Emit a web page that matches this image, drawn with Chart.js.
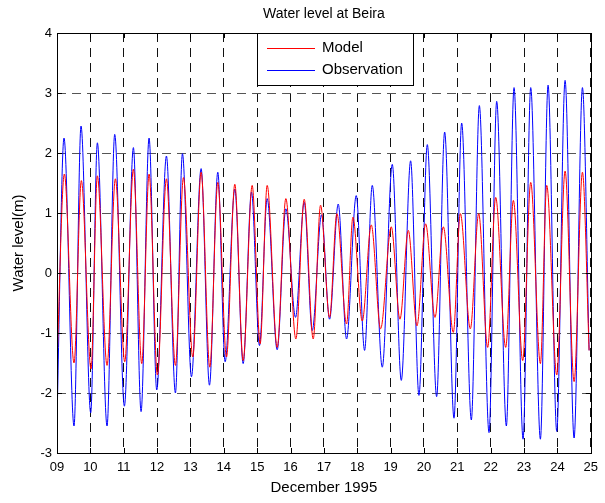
<!DOCTYPE html>
<html>
<head>
<meta charset="utf-8">
<title>Water level at Beira</title>
<script src="https://cdn.jsdelivr.net/npm/chart.js@4.4.1/dist/chart.umd.min.js"></script>
<style>
  html, body { margin: 0; padding: 0; background: #fff; }
  canvas { display: block; }
</style>
</head>
<body>
<canvas id="chart" width="605" height="503"></canvas>
<script>
// tide extrema (day of December 1995, metres)
const obsDays = [9.00, 9.21, 9.51, 9.72, 10.01, 10.21, 10.50, 10.73, 11.02, 11.29, 11.52, 11.76, 11.99, 12.28, 12.55, 12.76,
  13.03, 13.32, 13.57, 13.82, 14.04, 14.33, 14.58, 14.83, 15.07, 15.30, 15.60, 15.86, 16.15, 16.41, 16.65, 16.93,
  17.17, 17.43, 17.68, 17.97, 18.22, 18.45, 18.75, 19.05, 19.32, 19.60, 19.85, 20.10, 20.38, 20.62, 20.90, 21.13,
  21.42, 21.66, 21.95, 22.18, 22.47, 22.70, 22.97, 23.20, 23.49, 23.72, 23.98, 24.23, 24.50, 24.75, 24.95];
const obsLevel = [-2.45, 2.25, -2.55, 2.45, -2.33, 2.17, -2.55, 2.31, -2.22, 2.09, -2.31, 2.25, -1.95, 1.95, -2.00, 1.99,
  -1.73, 1.74, -1.87, 1.68, -1.48, 1.40, -1.51, 1.35, -1.21, 1.24, -1.28, 1.07, -0.74, 1.18, -0.96, 0.97,
  -0.77, 1.15, -1.10, 1.29, -1.29, 1.46, -1.57, 1.81, -1.79, 1.87, -2.04, 2.14, -2.06, 2.35, -2.42, 2.50,
  -2.45, 2.79, -2.66, 2.86, -2.55, 3.09, -2.77, 3.09, -2.77, 3.13, -2.64, 3.21, -2.75, 3.09, -1.29];

const modelDays = [9.00, 9.22, 9.51, 9.73, 10.02, 10.21, 10.50, 10.75, 11.03, 11.29, 11.54, 11.76, 12.01, 12.28, 12.55, 12.79,
  13.07, 13.32, 13.58, 13.82, 14.08, 14.33, 14.58, 14.85, 15.09, 15.30, 15.60, 15.86, 16.16, 16.41, 16.68, 16.90,
  17.17, 17.39, 17.68, 17.87, 18.15, 18.42, 18.70, 19.02, 19.28, 19.53, 19.79, 20.05, 20.33, 20.58, 20.88, 21.09,
  21.39, 21.64, 21.91, 22.15, 22.45, 22.68, 22.96, 23.20, 23.49, 23.68, 23.98, 24.23, 24.50, 24.75, 24.95];
const modelLevel = [-1.50, 1.65, -1.50, 1.54, -1.60, 1.62, -1.54, 1.57, -1.48, 1.73, -1.51, 1.65, -1.70, 1.57, -1.54, 1.59,
  -1.40, 1.68, -1.57, 1.51, -1.40, 1.48, -1.46, 1.46, -1.18, 1.46, -1.24, 1.24, -1.10, 1.23, -1.10, 1.13,
  -0.74, 0.99, -0.85, 0.93, -0.80, 0.80, -0.93, 0.77, -0.77, 0.71, -0.88, 0.82, -0.74, 0.77, -0.99, 0.99,
  -0.93, 0.99, -1.24, 1.26, -1.24, 1.21, -1.46, 1.51, -1.51, 1.46, -1.70, 1.70, -1.81, 1.68, -1.29];

const dayLabels = ["09", "10", "11", "12", "13", "14", "15", "16", "17", "18", "19", "20", "21", "22", "23", "24", "25"];
const levelTicks = [-3, -2, -1, 0, 1, 2, 3, 4];

const FONT = "'Liberation Sans', Arial, Helvetica, sans-serif";

function toPoints(xs, ys) {
  return xs.map((x, i) => ({ x: x, y: ys[i] }));
}

// MATLAB-ish frame: box, inward ticks on all four sides, legend inside top
const frame = {
  id: "frame",
  afterDraw(chart) {
    const ctx = chart.ctx;
    const a = chart.chartArea;
    const xs = chart.scales.x, ys = chart.scales.y;
    ctx.save();
    ctx.strokeStyle = "#000";
    ctx.lineWidth = 1;
    ctx.setLineDash([]);
    ctx.beginPath();
    xs.ticks.forEach(t => {
      const px = Math.round(xs.getPixelForValue(t.value)) + 0.5;
      ctx.moveTo(px, a.bottom); ctx.lineTo(px, a.bottom - 5);
      ctx.moveTo(px, a.top); ctx.lineTo(px, a.top + 5);
    });
    ys.ticks.forEach(t => {
      const py = Math.round(ys.getPixelForValue(t.value)) + 0.5;
      ctx.moveTo(a.left, py); ctx.lineTo(a.left + 5, py);
      ctx.moveTo(a.right, py); ctx.lineTo(a.right - 5, py);
    });
    ctx.stroke();
    ctx.strokeRect(Math.round(a.left) + 0.5, Math.round(a.top) + 0.5,
      Math.round(a.right - a.left), Math.round(a.bottom - a.top));

    // legend
    const lx = 257, ly = 33, lw = 156, lh = 52;
    ctx.fillStyle = "#fff";
    ctx.fillRect(lx, ly, lw, lh);
    ctx.strokeRect(lx + 0.5, ly + 0.5, lw, lh);
    ctx.font = "15px " + FONT;
    ctx.textBaseline = "middle";
    chart.data.datasets.forEach((ds, i) => {
      const y = ly + 15 + i * 22;
      ctx.strokeStyle = ds.borderColor;
      ctx.beginPath();
      ctx.moveTo(lx + 10, y + 0.5);
      ctx.lineTo(lx + 58, y + 0.5);
      ctx.stroke();
      ctx.fillStyle = "#000";
      ctx.fillText(ds.label, lx + 65, y);
    });
    ctx.restore();
  }
};

new Chart(document.getElementById("chart"), {
  type: "line",
  data: {
    datasets: [
      {
        label: "Model",
        data: toPoints(modelDays, modelLevel),
        borderColor: "#ff0000",
        borderWidth: 1,
        pointRadius: 0,
        cubicInterpolationMode: "monotone",
      },
      {
        label: "Observation",
        data: toPoints(obsDays, obsLevel),
        borderColor: "#0000ff",
        borderWidth: 1,
        pointRadius: 0,
        cubicInterpolationMode: "monotone",
      },
    ],
  },
  options: {
    responsive: false,
    devicePixelRatio: 1,
    animation: false,
    layout: { padding: { left: 0, right: 12, top: 0, bottom: 0 } },
    plugins: {
      legend: { display: false },
      tooltip: { enabled: false },
      title: {
        display: true,
        text: "Water level at Beira",
        fullSize: false,
        color: "#000",
        font: { family: FONT, size: 14, weight: "normal" },
        padding: { top: 6, bottom: 10.2 },
      },
    },
    scales: {
      x: {
        type: "linear",
        min: 9,
        max: 25,
        afterFit: s => { s.height = 50; },
        afterBuildTicks: s => { s.ticks = dayLabels.map((_, i) => ({ value: 9 + i })); },
        ticks: {
          color: "#000",
          font: { family: FONT, size: 13 },
          padding: 7,
          maxRotation: 0,
          autoSkip: false,
          callback: (v, i) => dayLabels[i],
        },
        grid: { color: "#111", drawTicks: false },
        border: { display: false, dash: [9, 6] },
        title: {
          display: true,
          text: "December 1995",
          color: "#000",
          font: { family: FONT, size: 15 },
          padding: { top: 0, bottom: 6 },
        },
      },
      y: {
        type: "linear",
        min: -3,
        max: 4,
        afterFit: s => { s.width = 57; },
        afterBuildTicks: s => { s.ticks = levelTicks.map(v => ({ value: v })); },
        ticks: {
          color: "#000",
          font: { family: FONT, size: 13 },
          padding: 5,
          autoSkip: false,
        },
        grid: { color: "#555", drawTicks: false },
        border: { display: false, dash: [9, 6] },
        title: {
          display: true,
          text: "Water level(m)",
          color: "#000",
          font: { family: FONT, size: 15 },
          padding: { top: 10, bottom: 0 },
        },
      },
    },
  },
  plugins: [frame],
});
</script>
</body>
</html>
